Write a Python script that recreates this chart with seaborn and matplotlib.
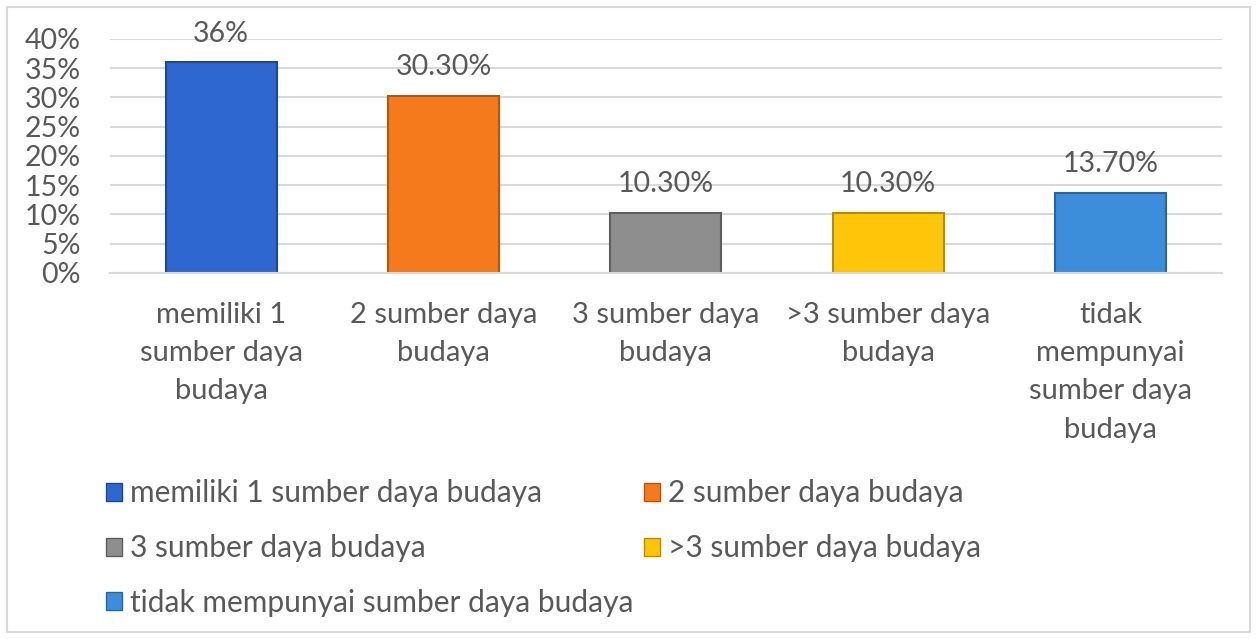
import pandas as pd
import numpy as np
import matplotlib.pyplot as plt
from matplotlib.patches import Rectangle
import seaborn as sns

# data
kategori = ['memiliki 1 sumber daya budaya', '2 sumber daya budaya', '3 sumber daya budaya',
            '>3 sumber daya budaya', 'tidak mempunyai sumber daya budaya']
label_sumbu = ['memiliki 1\nsumber daya\nbudaya', '2 sumber daya\nbudaya', '3 sumber daya\nbudaya',
               '>3 sumber daya\nbudaya', 'tidak\nmempunyai\nsumber daya\nbudaya']
persen = [0.36, 0.303, 0.103, 0.103, 0.137]
label_bar = ['36%', '30.30%', '10.30%', '10.30%', '13.70%']
warna = ['#2E67CF', '#F47A1C', '#8E8E8E', '#FFC508', '#3C8EDA']
tepi = ['#1F4690', '#B4560E', '#5E5E5E', '#B88C00', '#2A64A0']

sns.set_style('white')
plt.rcParams['font.family'] = ['Lato', 'DejaVu Sans']
abu = '#595959'

df = pd.DataFrame({'kategori': kategori, 'persen': persen})

fig = plt.figure(figsize=(12.57, 6.39), dpi=100)
ax = fig.add_axes([0.0875, 0.573, 0.8845, 0.366])

sns.barplot(data=df, x='kategori', y='persen', hue='kategori', palette=warna,
            width=0.5, legend=False, ax=ax, saturation=1)

for bar, e in zip(ax.patches, tepi):
    bar.set_edgecolor(e)
    bar.set_linewidth(1.5)

for i, (v, t) in enumerate(zip(persen, label_bar)):
    ax.annotate(t, (i, v), xytext=(0, 11), textcoords='offset points',
                ha='center', va='bottom', fontsize=20.5, color=abu)

ax.set_ylim(0, 0.4)
ax.set_xlim(-0.5, 4.5)
ax.set_yticks(np.arange(0, 0.41, 0.05))
ax.set_yticklabels([f'{int(round(y * 100))}%' for y in np.arange(0, 0.41, 0.05)],
                   fontsize=20.5, color=abu)
ax.yaxis.grid(True, color='#D9D9D9', linewidth=1.5)
ax.set_axisbelow(True)
ax.tick_params(axis='y', length=0, pad=21)

ax.set_xticks(range(5))
ax.set_xticklabels(label_sumbu, fontsize=21, color=abu, linespacing=1.58)
ax.set_xticks(np.arange(-0.5, 5, 1), minor=True)
ax.tick_params(axis='x', which='major', length=0, pad=21)
ax.tick_params(axis='x', which='minor', length=10, width=1.5, color='#D9D9D9')
ax.set_xlabel('')
ax.set_ylabel('')

for s in ['top', 'right', 'left']:
    ax.spines[s].set_visible(False)
ax.spines['bottom'].set_color('#D9D9D9')
ax.spines['bottom'].set_linewidth(1.5)

# legend fills column-wise, so reorder to get the row-wise layout
urutan = [0, 2, 4, 1, 3]
handles = [Rectangle((0, 0), 1, 1, facecolor=warna[i], edgecolor=tepi[i], linewidth=1) for i in urutan]
fig.legend(handles, [kategori[i] for i in urutan], ncol=2, loc='upper left',
           bbox_to_anchor=(0.063, 0.292), frameon=False, fontsize=21.5, labelcolor=abu,
           handlelength=0.55, handleheight=0.55, handletextpad=0.25, columnspacing=0.35,
           labelspacing=0.9)

fig.patches.append(Rectangle((0.0056, 0.011), 0.989, 0.978, transform=fig.transFigure,
                             fill=False, edgecolor='#D9D9D9', linewidth=1.5))

fig.savefig('out.png', dpi=100)
